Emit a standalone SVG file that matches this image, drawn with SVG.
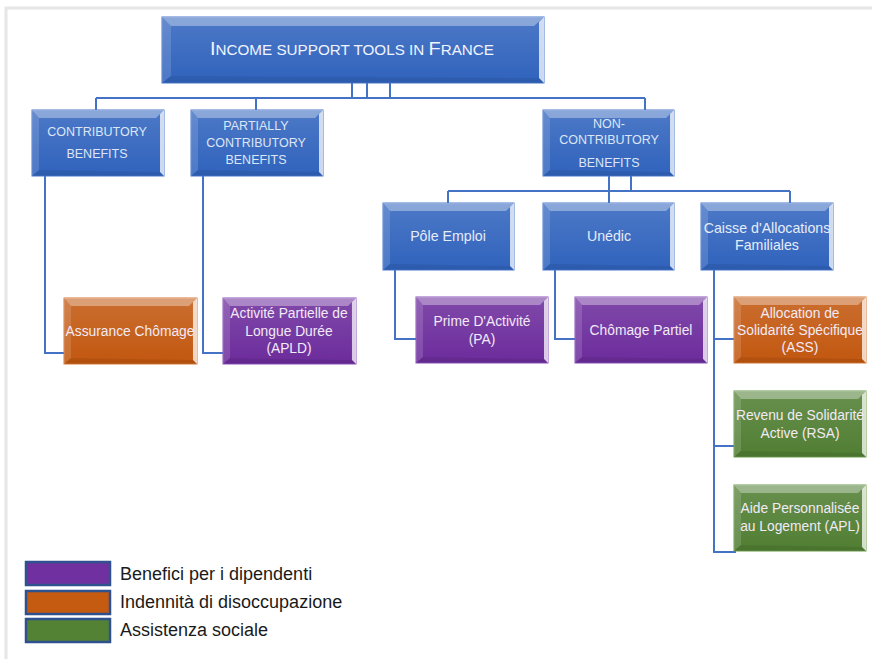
<svg xmlns="http://www.w3.org/2000/svg" xmlns:xlink="http://www.w3.org/1999/xlink" width="872" height="659" viewBox="0 0 872 659">
<defs>
<linearGradient id="shade" x1="0" y1="0" x2="0" y2="1">
<stop offset="0" stop-color="#ffffff" stop-opacity="0.14"/>
<stop offset="1" stop-color="#ffffff" stop-opacity="0"/>
</linearGradient>
<symbol id="bev" viewBox="0 0 132 66" preserveAspectRatio="none">
<polygon points="0,0 132,0 124,8 7,8" fill="#ffffff" fill-opacity="0.35"/>
<polygon points="0,0 7,8 7,60 0,66" fill="#ffffff" fill-opacity="0.14"/>
<polygon points="132,0 132,66 128,62 128,4" fill="#ffffff" fill-opacity="0.75"/>
<polygon points="0,66 132,66 128,62 7,60" fill="#000000" fill-opacity="0.08"/>
</symbol>
<symbol id="bevT" viewBox="0 0 382 66" preserveAspectRatio="none">
<polygon points="0,0 382,0 372,9 9,9" fill="#ffffff" fill-opacity="0.35"/>
<polygon points="0,0 9,9 9,59 0,66" fill="#ffffff" fill-opacity="0.14"/>
<polygon points="382,0 382,66 377,61 377,5" fill="#ffffff" fill-opacity="0.75"/>
<polygon points="0,66 382,66 377,61 9,59" fill="#000000" fill-opacity="0.08"/>
</symbol>
</defs>
<style>
.blue{fill:#3063bd;stroke:#4a78cc;stroke-width:1}
.purple{fill:#6c2c9c;stroke:#8a50b8;stroke-width:1}
.orange{fill:#c2570f;stroke:#d87a3a;stroke-width:1}
.green{fill:#507e32;stroke:#6c9a4c;stroke-width:1}
.sh{fill:url(#shade)}
text{font-family:"Liberation Sans","DejaVu Sans",sans-serif;text-anchor:middle}
.t2{font-size:12.5px;fill:#dde6f6}
.t3{font-size:14.2px;fill:#e6ecf8}
.tl{font-size:13.8px;fill:#f2eaf6}
.lg{font-size:18px;fill:#1a1a1a;text-anchor:start}
.conn{fill:none;stroke:#4472c4;stroke-width:2}
.leg{stroke:#2f528f;stroke-width:2.5}
</style>
<rect x="0" y="0" width="872" height="659" fill="#ffffff"/>
<path d="M6,659 V8 H872" fill="none" stroke="#e6e6e6" stroke-width="3"/>

<g id="connectors">
<path class="conn" d="M352,83 V98 M367,83 V98 M390,83 V98 M96,98 H645 M96,98 V110 M256,98 V110 M645,98 V110"/>
<path class="conn" d="M609,176 V191 M631,176 V191 M448,191 H790 M448,191 V203 M609,191 V203 M790,191 V203"/>
<path class="conn" d="M45,176 V353 H64"/>
<path class="conn" d="M203,176 V353 H223"/>
<path class="conn" d="M395,270 V339 H416"/>
<path class="conn" d="M555,270 V339 H575"/>
<path class="conn" d="M714,270 V552 H736 M714,339 H734 M714,446 H734"/>
</g>

<g id="title">
<rect class="blue" x="162" y="17" width="382" height="66"/>
<rect class="sh" x="162" y="17" width="382" height="66"/>
<use xlink:href="#bevT" x="162" y="17" width="382" height="66"/>
<text x="352" y="55" fill="#f0f4ff" textLength="284" lengthAdjust="spacingAndGlyphs"><tspan font-size="19">I</tspan><tspan font-size="14.5">NCOME SUPPORT TOOLS IN </tspan><tspan font-size="19">F</tspan><tspan font-size="14.5">RANCE</tspan></text>
</g>

<g id="contributory">
<rect class="blue" x="32" y="110" width="132" height="66"/>
<rect class="sh" x="32" y="110" width="132" height="66"/>
<use xlink:href="#bev" x="32" y="110" width="132" height="66"/>
<text class="t2" x="97" y="136">CONTRIBUTORY</text>
<text class="t2" x="97" y="158">BENEFITS</text>
</g>

<g id="partially">
<rect class="blue" x="191" y="110" width="132" height="66"/>
<rect class="sh" x="191" y="110" width="132" height="66"/>
<use xlink:href="#bev" x="191" y="110" width="132" height="66"/>
<text class="t2" x="256" y="130">PARTIALLY</text>
<text class="t2" x="256" y="147">CONTRIBUTORY</text>
<text class="t2" x="256" y="164">BENEFITS</text>
</g>

<g id="noncontributory">
<rect class="blue" x="543" y="110" width="131" height="66"/>
<rect class="sh" x="543" y="110" width="131" height="66"/>
<use xlink:href="#bev" x="543" y="110" width="131" height="66"/>
<text class="t2" x="609" y="128">NON-</text>
<text class="t2" x="609" y="144">CONTRIBUTORY</text>
<text class="t2" x="609" y="167">BENEFITS</text>
</g>

<g id="pole">
<rect class="blue" x="383" y="203" width="131" height="67"/>
<rect class="sh" x="383" y="203" width="131" height="67"/>
<use xlink:href="#bev" x="383" y="203" width="131" height="67"/>
<text class="t3" x="448" y="241">Pôle Emploi</text>
</g>

<g id="unedic">
<rect class="blue" x="543" y="203" width="131" height="67"/>
<rect class="sh" x="543" y="203" width="131" height="67"/>
<use xlink:href="#bev" x="543" y="203" width="131" height="67"/>
<text class="t3" x="609" y="241">Unédic</text>
</g>

<g id="caisse">
<rect class="blue" x="701" y="203" width="132" height="67"/>
<rect class="sh" x="701" y="203" width="132" height="67"/>
<use xlink:href="#bev" x="701" y="203" width="132" height="67"/>
<text class="t3" x="767" y="233">Caisse d'Allocations</text>
<text class="t3" x="767" y="250">Familiales</text>
</g>

<g id="assurance">
<rect class="orange" x="64" y="298" width="133" height="66"/>
<rect class="sh" x="64" y="298" width="133" height="66"/>
<use xlink:href="#bev" x="64" y="298" width="133" height="66"/>
<text class="tl" x="130" y="336">Assurance Chômage</text>
</g>

<g id="apld">
<rect class="purple" x="223" y="298" width="133" height="66"/>
<rect class="sh" x="223" y="298" width="133" height="66"/>
<use xlink:href="#bev" x="223" y="298" width="133" height="66"/>
<text class="tl" x="289" y="318">Activité Partielle de</text>
<text class="tl" x="289" y="336">Longue Durée</text>
<text class="tl" x="289" y="353">(APLD)</text>
</g>

<g id="prime">
<rect class="purple" x="416" y="297" width="132" height="66"/>
<rect class="sh" x="416" y="297" width="132" height="66"/>
<use xlink:href="#bev" x="416" y="297" width="132" height="66"/>
<text class="tl" x="482" y="326">Prime D'Activité</text>
<text class="tl" x="482" y="344">(PA)</text>
</g>

<g id="chomage-partiel">
<rect class="purple" x="575" y="297" width="132" height="66"/>
<rect class="sh" x="575" y="297" width="132" height="66"/>
<use xlink:href="#bev" x="575" y="297" width="132" height="66"/>
<text class="tl" x="641" y="335">Chômage Partiel</text>
</g>

<g id="ass">
<rect class="orange" x="734" y="297" width="132" height="66"/>
<rect class="sh" x="734" y="297" width="132" height="66"/>
<use xlink:href="#bev" x="734" y="297" width="132" height="66"/>
<text class="tl" x="800" y="318">Allocation de</text>
<text class="tl" x="800" y="335">Solidarité Spécifique</text>
<text class="tl" x="800" y="352">(ASS)</text>
</g>

<g id="rsa">
<rect class="green" x="734" y="391" width="132" height="66"/>
<rect class="sh" x="734" y="391" width="132" height="66"/>
<use xlink:href="#bev" x="734" y="391" width="132" height="66"/>
<text class="tl" x="800" y="420">Revenu de Solidarité</text>
<text class="tl" x="800" y="438">Active (RSA)</text>
</g>

<g id="apl">
<rect class="green" x="734" y="485" width="132" height="66"/>
<rect class="sh" x="734" y="485" width="132" height="66"/>
<use xlink:href="#bev" x="734" y="485" width="132" height="66"/>
<text class="tl" x="800" y="513">Aide Personnalisée</text>
<text class="tl" x="800" y="531">au Logement (APL)</text>
</g>

<g id="legend">
<rect class="leg" x="26" y="562" width="84" height="23" fill="#7030a0"/>
<rect class="leg" x="26" y="591" width="84" height="23" fill="#c55a11"/>
<rect class="leg" x="26" y="619" width="84" height="23" fill="#548235"/>
<text class="lg" x="120" y="580">Benefici per i dipendenti</text>
<text class="lg" x="120" y="608">Indennità di disoccupazione</text>
<text class="lg" x="120" y="636">Assistenza sociale</text>
</g>
</svg>
